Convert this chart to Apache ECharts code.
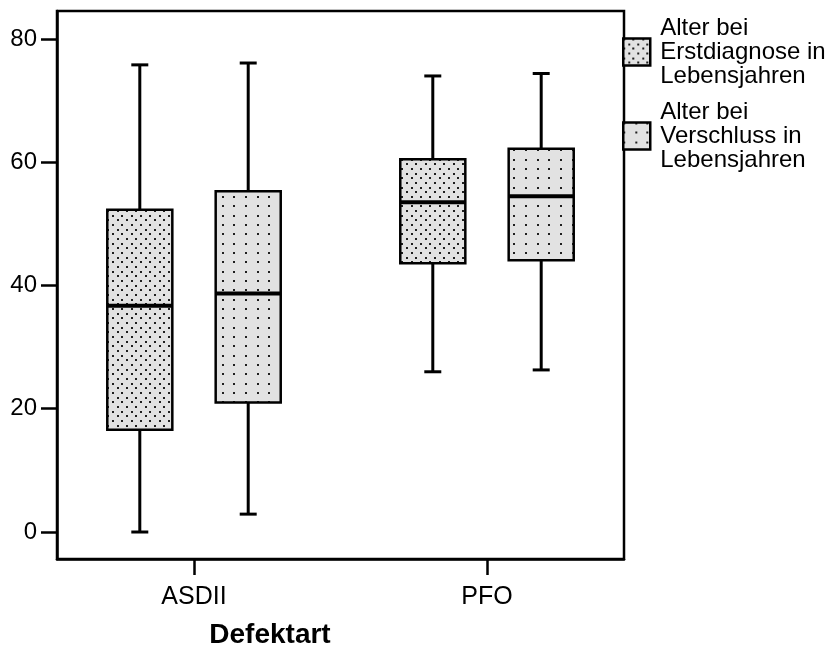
<!DOCTYPE html>
<html>
<head>
<meta charset="utf-8">
<script src="https://cdn.jsdelivr.net/npm/echarts@6/dist/echarts.min.js"></script>
<style>
  html, body { margin: 0; padding: 0; background: #fff; }
  #chart { width: 833px; height: 647px; }
</style>
</head>
<body>
<div id="chart"></div>
<script>
// Daten: Boxplot-Kennwerte [min, Q1, Median, Q3, max]
const categories = ['ASDII', 'PFO'];
const seriesNames = ['Alter bei Erstdiagnose in Lebensjahren', 'Alter bei Verschluss in Lebensjahren'];
const legendLines = [
  ['Alter bei', 'Erstdiagnose in', 'Lebensjahren'],
  ['Alter bei', 'Verschluss in', 'Lebensjahren']
];
const erstdiagnose = [
  [0.0, 16.6, 36.7, 52.3, 75.8],
  [26.0, 43.6, 53.5, 60.5, 74.0]
];
const verschluss = [
  [2.9, 21.0, 38.7, 55.3, 76.1],
  [26.3, 44.1, 54.5, 62.2, 74.4]
];
const yTicks = [0, 20, 40, 60, 80];
const axisTitle = 'Defektart';

const font = "'Liberation Sans', Arial, sans-serif";
// Box-Geometrie in Achseneinheiten (Kategorie-Abstand = 1)
const boxOffset = 0.185;
const boxHalf = 0.111;
const capHalf = 0.029;

// Punktraster wie im SPSS-Original
function makePattern(w, h, dots) {
  const c = document.createElement('canvas');
  c.width = w; c.height = h;
  const g = c.getContext('2d');
  g.fillStyle = '#e2e2e2';
  g.fillRect(0, 0, w, h);
  g.fillStyle = '#1e1e1e';
  dots.forEach(d => g.fillRect(d[0], d[1], 2, 2));
  return { image: c, repeat: 'repeat' };
}
const denseDots = [];
const sparseDots = [];
for (let i = 0; i < 3; i++) {
  for (let j = 0; j < 3; j++) {
    denseDots.push([Math.round(i * 28 / 3), Math.round(j * 28 / 3)]);
    denseDots.push([Math.round(i * 28 / 3 + 14 / 3), Math.round(j * 28 / 3 + 14 / 3)]);
    sparseDots.push([Math.round(i * 35 / 3), Math.round(j * 28 / 3)]);
  }
}
const fills = [makePattern(28, 28, denseDots), makePattern(35, 28, sparseDots)];

function boxRenderer(offset, fill) {
  return function (params, api) {
    const x = api.value(0) + offset;
    const xc = api.coord([x, 0])[0];
    const yMin = api.coord([x, api.value(1)])[1];
    const yQ1 = api.coord([x, api.value(2)])[1];
    const yMed = api.coord([x, api.value(3)])[1];
    const yQ3 = api.coord([x, api.value(4)])[1];
    const yMax = api.coord([x, api.value(5)])[1];
    const xl = api.coord([x - boxHalf, 0])[0];
    const xr = api.coord([x + boxHalf, 0])[0];
    const cl = api.coord([x - capHalf, 0])[0];
    const cr = api.coord([x + capHalf, 0])[0];
    const line = { stroke: '#000', lineWidth: 3 };
    return {
      type: 'group',
      children: [
        { type: 'line', shape: { x1: xc, y1: yMin, x2: xc, y2: yQ1 }, style: line },
        { type: 'line', shape: { x1: xc, y1: yQ3, x2: xc, y2: yMax }, style: line },
        { type: 'line', shape: { x1: cl, y1: yMin, x2: cr, y2: yMin }, style: line },
        { type: 'line', shape: { x1: cl, y1: yMax, x2: cr, y2: yMax }, style: line },
        { type: 'rect', shape: { x: xl, y: yQ3, width: xr - xl, height: yQ1 - yQ3 },
          style: { fill: fill, stroke: '#000', lineWidth: 2.5 } },
        { type: 'line', shape: { x1: xl, y1: yMed, x2: xr, y2: yMed }, style: { stroke: '#000', lineWidth: 4 } }
      ]
    };
  };
}

const chart = echarts.init(document.getElementById('chart'));
const allData = [erstdiagnose, verschluss];
const series = allData.map((rows, s) => ({
  name: seriesNames[s],
  type: 'custom',
  renderItem: boxRenderer(s === 0 ? -boxOffset : boxOffset, fills[s]),
  itemStyle: { color: fills[s], borderColor: '#000', borderWidth: 2.5 },
  encode: { x: 0, y: [1, 2, 3, 4, 5] },
  data: rows.map((r, i) => [i + 1].concat(r))
}));

chart.setOption({
  animation: false,
  backgroundColor: '#fff',
  title: {
    text: axisTitle,
    left: 265,
    top: 616,
    textAlign: 'center',
    textStyle: { fontFamily: font, fontSize: 28, fontWeight: 'bold', color: '#000' }
  },
  legend: {
    orient: 'vertical',
    left: 622,
    top: 16,
    padding: 0,
    icon: 'rect',
    itemWidth: 27,
    itemHeight: 27,
    itemGap: 12,
    selectedMode: false,
    formatter: name => legendLines[seriesNames.indexOf(name)].join('\n'),
    textStyle: { fontFamily: font, fontSize: 24, lineHeight: 24, color: '#000', padding: [0, 0, 0, 5] },
    data: seriesNames.map((n, s) => ({
      name: n,
      itemStyle: { color: fills[s], borderColor: '#000', borderWidth: 2.5 }
    }))
  },
  grid: { left: 57, top: 11, right: 209, bottom: 88, show: true, borderColor: '#000', borderWidth: 2.5 },
  xAxis: {
    type: 'value',
    min: 0.5324,
    max: 2.4676,
    splitLine: { show: false },
    axisLine: { show: true, onZero: false, lineStyle: { color: '#000', width: 2.5 } },
    axisTick: { show: true, length: 16, customValues: [1, 2], lineStyle: { color: '#000', width: 2.5 } },
    axisLabel: {
      customValues: [1, 2],
      margin: 26,
      formatter: v => categories[Math.round(v) - 1] || '',
      fontFamily: font, fontSize: 25, color: '#000'
    }
  },
  yAxis: {
    type: 'value',
    min: -4.38,
    max: 84.54,
    splitLine: { show: false },
    axisLine: { show: true, onZero: false, lineStyle: { color: '#000', width: 2.5 } },
    axisTick: { show: true, length: 16, customValues: yTicks, lineStyle: { color: '#000', width: 2.5 } },
    axisLabel: {
      customValues: yTicks,
      margin: 20,
      fontFamily: font, fontSize: 24, color: '#000'
    }
  },
  series: series
});
</script>
</body>
</html>
